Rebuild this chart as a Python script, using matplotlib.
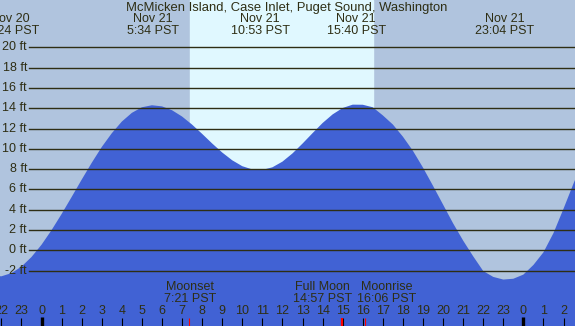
import numpy as np
import matplotlib.pyplot as plt

plt.rcParams['font.family'] = ['Liberation Sans', 'DejaVu Sans']

# hours since midnight Nov 21 (PST) and tide height in feet
hours = [-2.5, -2.0, -1.5, -1.0, -0.5, 0.0, 0.5, 1.0, 1.5, 2.0, 2.5, 3.0, 3.5, 4.0,
         4.5, 5.0, 5.5, 6.0, 6.5, 7.0, 7.5, 8.0, 8.5, 9.0, 9.5, 10.0, 10.5, 11.0,
         11.5, 12.0, 12.5, 13.0, 13.5, 14.0, 14.5, 15.0, 15.5, 16.0, 16.5, 17.0,
         17.5, 18.0, 18.5, 19.0, 19.5, 20.0, 20.5, 21.0, 21.5, 22.0, 22.5, 23.0,
         23.5, 24.0, 24.5, 25.0, 25.5, 26.0, 26.5, 27.0]
heights = [-2.5, -2.57, -2.26, -1.62, -0.67, 0.54, 1.98, 3.57, 5.25, 6.96, 8.62,
           10.18, 11.54, 12.69, 13.55, 14.1, 14.3, 14.19, 13.81, 13.19, 12.39,
           11.48, 10.53, 9.64, 8.87, 8.29, 7.97, 7.92, 8.18, 8.74, 9.55, 10.52,
           11.55, 12.55, 13.4, 14.03, 14.36, 14.35, 14.1, 13.3, 12.4, 11.2, 9.8,
           8.15, 6.35, 4.5, 2.65, 0.95, -0.6, -2.05, -2.63, -2.89, -2.81, -2.4,
           -1.45, -0.2, 1.7, 4.1, 6.6, 9.0]

# high / low tide labels at the top
extreme_hours = [-1.6, 5.567, 10.883, 15.667, 23.067]
extreme_days = ["Nov 20", "Nov 21", "Nov 21", "Nov 21", "Nov 21"]
extreme_times = ["22:24 PST", "5:34 PST", "10:53 PST", "15:40 PST", "23:04 PST"]

# daylight
sunrise = 7.40
sunset = 16.52

# moon events
moon_hours = [7.35, 14.95, 16.1]
moon_names = ["Moonset", "Full Moon", "Moonrise"]
moon_times = ["7:21 PST", "14:57 PST", "16:06 PST"]
moon_label_x = [7.4, 14.0, 17.2]

feet_ticks = list(range(-2, 21, 2))
hour_ticks = list(range(-2, 27))

title = "McMicken Island, Case Inlet, Puget Sound, Washington"

W, H = 575, 326
x_left, x_right = -2.067, 26.57
y_bottom, y_top = -7.47, 24.68

sky = '#b0c4de'
day = '#e0f8ff'
water = '#4162d4'
ink = '#2e2e14'

fig = plt.figure(figsize=(W / 100, H / 100), dpi=100)
ax = fig.add_axes([0, 0, 1, 1])
ax.set_xlim(x_left, x_right)
ax.set_ylim(y_bottom, y_top)
ax.set_facecolor(sky)
for s in ax.spines.values():
    s.set_visible(False)
ax.set_xticks([])
ax.set_yticks([])

ax.axvspan(sunrise, sunset, color=day, zorder=1)
ax.fill_between(hours, heights, y_bottom - 1, color=water, lw=0, zorder=2)

# feet grid lines and labels
for f in feet_ticks:
    ax.plot([-0.62, x_right], [f, f], color=ink, lw=1.0, zorder=3)
    ax.text(-0.72, f, f"{f} ft", ha='right', va='center', fontsize=9,
            color=ink, zorder=4)


def ypix(p):
    # pixel row from the top -> axes fraction
    return 1 - p / H


tr = ax.get_xaxis_transform()

ax.text((x_left + x_right) / 2 - 0.02, ypix(7.5), title, transform=tr,
        ha='center', va='center', fontsize=9.4, color=ink)
for h, d, t in zip(extreme_hours, extreme_days, extreme_times):
    ax.text(h, ypix(19.5), d, transform=tr, ha='center', va='center',
            fontsize=9, color=ink)
    ax.text(h, ypix(31.5), t, transform=tr, ha='center', va='center',
            fontsize=9, color=ink)

# hour labels and ticks along the bottom
for h in hour_ticks:
    ax.text(h, ypix(311.5), str(h % 24), transform=tr, ha='center',
            va='center', fontsize=9, color=ink)
    if h % 24 == 0:
        ax.plot([h, h], [ypix(317), ypix(326)], transform=tr, color='black',
                lw=2.4, solid_capstyle='butt', zorder=5)
    else:
        ax.plot([h, h], [ypix(318), ypix(326)], transform=tr, color='black',
                lw=0.8, solid_capstyle='butt', zorder=5)

for h, n, t, lx in zip(moon_hours, moon_names, moon_times, moon_label_x):
    lw = 1.6 if n == "Full Moon" else 0.8
    ax.plot([h, h], [ypix(318), ypix(326)], transform=tr, color='red', lw=lw,
            solid_capstyle='butt', zorder=6)
    ax.text(lx, ypix(287.5), n, transform=tr, ha='center', va='center',
            fontsize=9, color=ink)
    ax.text(lx, ypix(298.5), t, transform=tr, ha='center', va='center',
            fontsize=9, color=ink)

fig.savefig("out.png", dpi=100)
plt.close(fig)
